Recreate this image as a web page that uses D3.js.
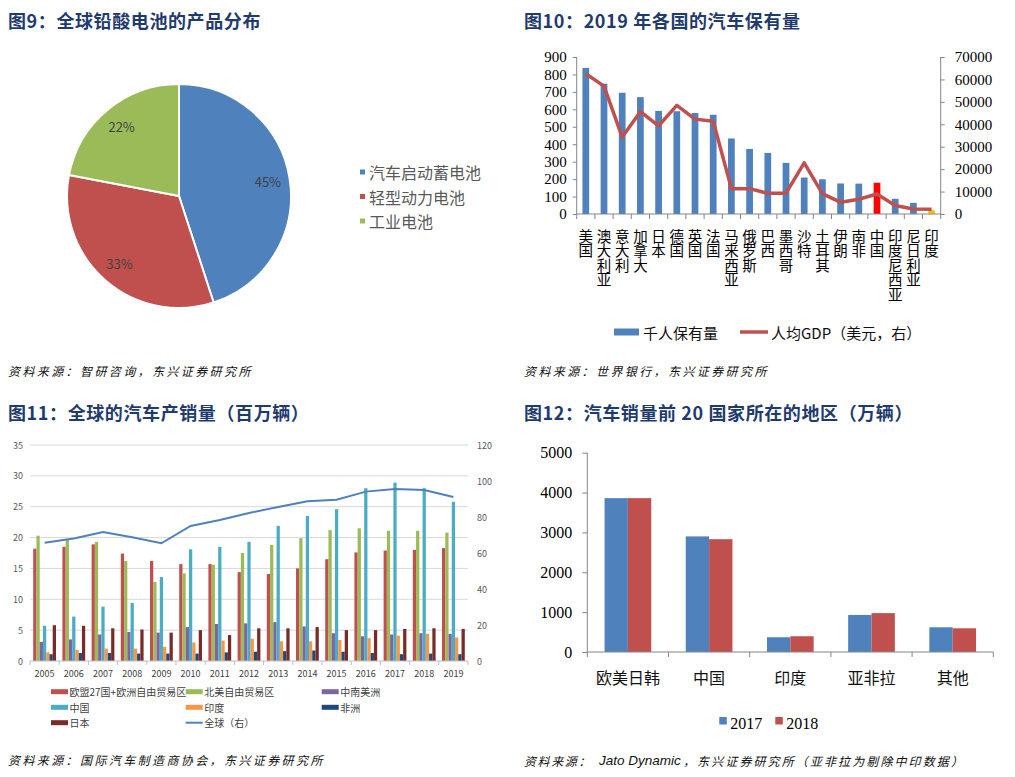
<!DOCTYPE html>
<html><head><meta charset="utf-8">
<script src="https://cdn.jsdelivr.net/npm/d3@7"></script>
<style>
body{margin:0;background:#fff}
svg{display:block}
text{font-family:"Noto Sans CJK SC","Noto Sans",sans-serif}
.serif{font-family:"Liberation Serif","Times New Roman",serif}
.title{font-weight:bold;font-size:18px;fill:#1F3B6E;letter-spacing:0.6px}
.src{font-style:italic;font-size:12px;fill:#111}
.vlab{writing-mode:vertical-rl;text-orientation:upright}
</style>
</head><body>
<svg id="c" width="1015" height="777"></svg>
<script>
// ---------- Data ----------
// Fig 9
const pieLabels = ["汽车启动蓄电池", "轻型动力电池", "工业电池"];
const pieValues = [45, 33, 22];
const pieColors = ["#4F81BD", "#C0504D", "#9BBB59"];

// Fig 10
const countries = ["美国","澳大利亚","意大利","加拿大","日本","德国","英国","法国","马来西亚","俄罗斯","巴西","墨西哥","沙特","土耳其","伊朗","南非","中国","印度尼西亚","尼日利亚","印度"];
const carsPer1000 = [837, 747, 695, 670, 591, 589, 579, 569, 433, 373, 350, 293, 209, 199, 175, 174, 179, 87, 64, 22];
const gdpPerCapita = [62500, 57000, 34300, 45600, 39300, 48400, 42300, 41400, 11300, 11300, 9200, 9300, 22800, 9100, 5200, 6600, 8900, 3800, 2200, 2100];
const leftTicks10 = [0,100,200,300,400,500,600,700,800,900];
const rightTicks10 = [0,10000,20000,30000,40000,50000,60000,70000];

// Fig 11
const years = ["2005","2006","2007","2008","2009","2010","2011","2012","2013","2014","2015","2016","2017","2018","2019"];
const seriesNames11 = ["欧盟27国+欧洲自由贸易区","北美自由贸易区","中南美洲","中国","印度","非洲","日本"];
const euEfta   = [18.2, 18.5, 18.9, 17.4, 16.2, 15.7, 15.7, 14.4, 14.1, 15.0, 16.5, 17.6, 17.9, 18.0, 18.3];
const nafta    = [20.3, 19.8, 19.3, 16.2, 12.8, 14.2, 15.6, 17.5, 18.8, 19.9, 21.2, 21.5, 21.1, 21.1, 20.8];
const latAm    = [3.1, 3.5, 4.3, 4.7, 4.6, 5.5, 6.0, 6.1, 6.3, 5.6, 4.5, 4.0, 4.3, 4.5, 4.4];
const china    = [5.7, 7.2, 8.8, 9.4, 13.6, 18.1, 18.5, 19.3, 21.9, 23.5, 24.6, 28.0, 28.9, 28.0, 25.8];
const india    = [1.4, 1.8, 2.0, 2.0, 2.3, 3.0, 3.3, 3.6, 3.2, 3.2, 3.4, 3.7, 4.1, 4.4, 3.8];
const africa   = [1.1, 1.3, 1.3, 1.2, 1.2, 1.2, 1.4, 1.5, 1.6, 1.7, 1.5, 1.3, 1.1, 1.2, 1.1];
const japan    = [5.8, 5.7, 5.3, 5.1, 4.6, 5.0, 4.2, 5.3, 5.3, 5.5, 5.0, 5.0, 5.2, 5.3, 5.2];
const globalTotal = [65.7, 68.1, 71.7, 68.7, 65.4, 75.0, 78.3, 82.2, 85.6, 88.7, 89.6, 94.1, 95.6, 95.0, 91.1];
const colors11 = ["#C0504D","#9BBB59","#8064A2","#4BACC6","#F79646","#1F497D","#772C2A"];
const leftTicks11 = [0,5,10,15,20,25,30,35];
const rightTicks11 = [0,20,40,60,80,100,120];

// Fig 12
const regions = ["欧美日韩","中国","印度","亚非拉","其他"];
const sales2017 = [3860, 2900, 370, 930, 620];
const sales2018 = [3860, 2830, 395, 975, 595];
const ticks12 = [0,1000,2000,3000,4000,5000];

// ---------- Drawing ----------
const svg = d3.select("#c");
svg.append("rect").attr("width",1015).attr("height",777).attr("fill","#fff");

function title(x, y, t){ svg.append("text").attr("class","title").attr("x",x).attr("y",y).attr("dominant-baseline","central").text(t); }
function source(y, parts){
  const t = svg.append("text").attr("class","src").attr("y",y).attr("dominant-baseline","central");
  parts.forEach(p => t.append("tspan").attr("x",p.x).attr("letter-spacing", p.ls)
    .attr("font-family", p.ff || null).attr("font-size", p.fs || null).text(p.t));
}

title(8, 20, "图9：全球铅酸电池的产品分布");
title(524, 20, "图10：2019 年各国的汽车保有量");
title(8, 412, "图11：全球的汽车产销量（百万辆）");
title(524, 412, "图12：汽车销量前 20 国家所在的地区（万辆）");

source(370, [{x:8, t:"资料来源：智研咨询，东兴证券研究所", ls:"2.4px"}]);
source(370, [{x:524, t:"资料来源：世界银行，东兴证券研究所", ls:"2.4px"}]);
source(759, [{x:8, t:"资料来源：国际汽车制造商协会，东兴证券研究所", ls:"2.4px"}]);
source(760, [{x:524, t:"资料来源：", ls:"1.6px"},
             {x:599, t:"Jato Dynamic", ls:"0px", ff:"Liberation Sans, Arial, sans-serif", fs:13.5},
             {x:683, t:"，东兴证券研究所（亚非拉为剔除中印数据）", ls:"2.1px"}]);

// ===== Fig 9 pie =====
(function(){
  const cx = 179, cy = 196, r = 112;
  const g = svg.append("g").attr("transform",`translate(${cx},${cy})`);
  const pie = d3.pie().sort(null).value(d => d)(pieValues);
  const arc = d3.arc().innerRadius(0).outerRadius(r);
  const labelArc = d3.arc().innerRadius(90).outerRadius(90);
  g.selectAll("path").data(pie).join("path")
    .attr("d", arc).attr("fill",(d,i)=>pieColors[i])
    .attr("stroke","#fff").attr("stroke-width",2);
  g.selectAll("text").data(pie).join("text")
    .attr("transform", d => `translate(${labelArc.centroid(d)})`)
    .attr("text-anchor","middle").attr("dominant-baseline","central")
    .attr("font-family","Liberation Sans, Arial, sans-serif")
    .attr("font-size",13).attr("fill","#404040")
    .text(d => d.data + "%");
  const lg = svg.append("g");
  pieLabels.forEach((l,i)=>{
    const y = 172 + i*24.5;
    lg.append("rect").attr("x",360).attr("y",y-2.5).attr("width",5).attr("height",5).attr("fill",pieColors[i]);
    lg.append("text").attr("x",369).attr("y",y).attr("dominant-baseline","central")
      .attr("font-size",16).attr("fill","#595959").text(l);
  });
})();

// ===== Fig 10 =====
(function(){
  const x0 = 576.7, x1 = 940.7, yb = 214, yt = 57;
  const x = d3.scaleBand().domain(countries).range([x0,x1]);
  const yL = d3.scaleLinear().domain([0,900]).range([yb,yt]);
  const yR = d3.scaleLinear().domain([0,70000]).range([yb,yt]);
  const g = svg.append("g");
  const bw = x.bandwidth()*0.37;
  g.selectAll("rect.bar").data(countries).join("rect").attr("class","bar")
    .attr("x", d => x(d) + x.bandwidth()/2 - bw/2)
    .attr("y", (d,i) => yL(carsPer1000[i]))
    .attr("width", bw)
    .attr("height", (d,i) => yb - yL(carsPer1000[i]))
    .attr("fill", d => d === "中国" ? "#FF0000" : d === "印度" ? "#FFC000" : "#4F81BD");
  const axL = g.append("g").attr("transform",`translate(${x0},0)`)
    .call(d3.axisLeft(yL).tickValues(leftTicks10).tickSize(4).tickPadding(6).tickFormat(d3.format("d")));
  const axR = g.append("g").attr("transform",`translate(${x1},0)`)
    .call(d3.axisRight(yR).tickValues(rightTicks10).tickSize(4).tickPadding(10).tickFormat(d3.format("d")));
  [axL, axR].forEach(a=>{
    a.select(".domain").attr("stroke","#868686").attr("d", `M0,${yb}V${yt}`);
    a.selectAll(".tick line").attr("stroke","#868686");
    a.selectAll(".tick text").attr("class","serif").attr("font-size",15).attr("fill","#000");
  });
  g.append("line").attr("x1",x0).attr("x2",x1).attr("y1",yb).attr("y2",yb).attr("stroke","#868686");
  const bounds = countries.map(d => x(d)).concat([x1]);
  g.selectAll("line.bt").data(bounds).join("line").attr("class","bt")
    .attr("x1",d=>d).attr("x2",d=>d).attr("y1",yb).attr("y2",yb+5).attr("stroke","#868686");
  const line = d3.line().x((d,i)=>x(countries[i])+x.bandwidth()/2).y(d=>yR(d));
  g.append("path").datum(gdpPerCapita).attr("d",line).attr("fill","none")
    .attr("stroke","#C0504D").attr("stroke-width",3.5).attr("stroke-linejoin","round");
  // vertical labels (one text per label, vertical writing)
  g.selectAll("text.vlab").data(countries).join("text").attr("class","vlab")
    .attr("x", d => x(d)+x.bandwidth()/2).attr("y", 229)
    .attr("font-size",14.5).attr("fill","#000").text(d=>d);
  // legend
  g.append("rect").attr("x",614).attr("y",328.5).attr("width",25).attr("height",7).attr("fill","#4F81BD");
  g.append("text").attr("x",643).attr("y",332).attr("dominant-baseline","central").attr("font-size",15).attr("fill","#111").text("千人保有量");
  g.append("line").attr("x1",740).attr("x2",768).attr("y1",332).attr("y2",332).attr("stroke","#C0504D").attr("stroke-width",3.5);
  g.append("text").attr("x",771).attr("y",332).attr("dominant-baseline","central").attr("font-size",15).attr("fill","#111").text("人均GDP（美元，右）");
})();

// ===== Fig 11 =====
(function(){
  const x0 = 30, x1 = 468, yb = 661, yt = 445;
  const x = d3.scaleBand().domain(years).range([x0,x1]);
  const yL = d3.scaleLinear().domain([0,35]).range([yb,yt]);
  const yR = d3.scaleLinear().domain([0,120]).range([yb,yt]);
  const g = svg.append("g");
  g.selectAll("line.grid").data(leftTicks11.slice(1)).join("line").attr("class","grid")
    .attr("x1",x0).attr("x2",x1).attr("y1",d=>yL(d)).attr("y2",d=>yL(d)).attr("stroke","#D9D9D9");
  const data = [euEfta, nafta, latAm, china, india, africa, japan];
  const groupW = x.bandwidth()*0.78;
  const xi = d3.scaleBand().domain(d3.range(7)).range([0,groupW]);
  data.forEach((arr,si)=>{
    g.selectAll(`rect.s${si}`).data(arr).join("rect").attr("class",`s${si}`)
      .attr("x",(d,i)=>x(years[i]) + (x.bandwidth()-groupW)/2 + xi(si))
      .attr("y",d=>yL(d)).attr("width",xi.bandwidth()).attr("height",d=>yb-yL(d))
      .attr("fill",colors11[si]);
  });
  g.append("line").attr("x1",x0).attr("x2",x1).attr("y1",yb).attr("y2",yb).attr("stroke","#BFBFBF");
  const bounds = years.map(d=>x(d)).concat([x1]);
  g.selectAll("line.bt").data(bounds).join("line").attr("class","bt")
    .attr("x1",d=>d).attr("x2",d=>d).attr("y1",yb).attr("y2",yb+4).attr("stroke","#BFBFBF");
  g.selectAll("text.yl").data(leftTicks11).join("text").attr("class","yl")
    .attr("x",23).attr("y",d=>yL(d)).attr("text-anchor","end").attr("dominant-baseline","central")
    .attr("font-family","Liberation Sans, Arial, sans-serif").attr("font-size",9).attr("fill","#595959").text(d=>d);
  g.selectAll("text.yr").data(rightTicks11).join("text").attr("class","yr")
    .attr("x",477).attr("y",d=>yR(d)).attr("dominant-baseline","central")
    .attr("font-family","Liberation Sans, Arial, sans-serif").attr("font-size",9).attr("fill","#595959").text(d=>d);
  g.selectAll("text.xl").data(years).join("text").attr("class","xl")
    .attr("x",d=>x(d)+x.bandwidth()/2).attr("y",673).attr("text-anchor","middle").attr("dominant-baseline","central")
    .attr("font-family","Liberation Sans, Arial, sans-serif").attr("font-size",9).attr("fill","#404040").text(d=>d);
  const line = d3.line().x((d,i)=>x(years[i])+x.bandwidth()/2).y(d=>yR(d));
  g.append("path").datum(globalTotal).attr("d",line).attr("fill","none").attr("stroke","#4F81BD").attr("stroke-width",2);
  const cols = [51, 185.7, 321.7], rows = [691.7, 707.3, 722.7];
  const items = seriesNames11.map((n,i)=>({n, c:colors11[i], line:false})).concat([{n:"全球（右）", c:"#4F81BD", line:true}]);
  items.forEach((it,i)=>{
    const cx = cols[i%3], cy = rows[Math.floor(i/3)];
    if(it.line) g.append("line").attr("x1",cx).attr("x2",cx+17).attr("y1",cy).attr("y2",cy).attr("stroke",it.c).attr("stroke-width",2);
    else g.append("rect").attr("x",cx).attr("y",cy-2.5).attr("width",17).attr("height",5).attr("fill",it.c);
    g.append("text").attr("x",cx+18.5).attr("y",cy).attr("dominant-baseline","central")
      .attr("font-size",10).attr("fill","#404040").text(it.n);
  });
})();

// ===== Fig 12 =====
(function(){
  const x0 = 587.3, x1 = 993.3, yb = 652, yt = 452.7;
  const x = d3.scaleBand().domain(regions).range([x0,x1]);
  const y = d3.scaleLinear().domain([0,5000]).range([yb,yt]);
  const g = svg.append("g");
  const groupW = x.bandwidth()*0.575;
  const xi = d3.scaleBand().domain([0,1]).range([0,groupW]);
  [[sales2017,"#4F81BD"],[sales2018,"#C0504D"]].forEach(([arr,col],si)=>{
    g.selectAll(`rect.r${si}`).data(arr).join("rect").attr("class",`r${si}`)
      .attr("x",(d,i)=>x(regions[i])+(x.bandwidth()-groupW)/2+xi(si))
      .attr("y",d=>y(d)).attr("width",xi.bandwidth()).attr("height",d=>yb-y(d)).attr("fill",col);
  });
  const ax = g.append("g").attr("transform",`translate(${x0},0)`)
    .call(d3.axisLeft(y).tickValues(ticks12).tickSize(5).tickPadding(10).tickFormat(d3.format("d")));
  ax.select(".domain").attr("stroke","#868686").attr("d",`M0,${yb}V${yt}`);
  ax.selectAll(".tick line").attr("stroke","#868686");
  ax.selectAll(".tick text").attr("class","serif").attr("font-size",16).attr("fill","#000");
  g.append("line").attr("x1",x0).attr("x2",x1).attr("y1",yb).attr("y2",yb).attr("stroke","#868686");
  const bounds = regions.map(d=>x(d)).concat([x1]);
  g.selectAll("line.bt").data(bounds).join("line").attr("class","bt")
    .attr("x1",d=>d).attr("x2",d=>d).attr("y1",yb).attr("y2",yb+5).attr("stroke","#868686");
  g.selectAll("text.xl").data(regions).join("text").attr("class","xl")
    .attr("x",d=>x(d)+x.bandwidth()/2).attr("y",677).attr("text-anchor","middle").attr("dominant-baseline","central")
    .attr("font-size",16).attr("fill","#111").text(d=>d);
  [["2017","#4F81BD",719.3],["2018","#C0504D",775.3]].forEach(([t,c,lx])=>{
    g.append("rect").attr("x",lx).attr("y",717).attr("width",7.5).attr("height",7.5).attr("fill",c);
    g.append("text").attr("class","serif").attr("x",lx+11).attr("y",723).attr("dominant-baseline","central")
      .attr("font-size",16).attr("fill","#000").text(t);
  });
})();
</script>
</body></html>
